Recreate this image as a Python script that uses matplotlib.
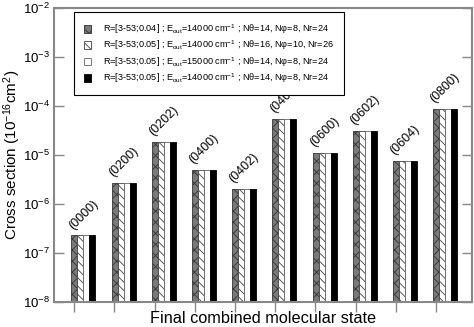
import numpy as np
import matplotlib
matplotlib.use("Agg")
import matplotlib.pyplot as plt
from matplotlib.patches import Patch

plt.rcParams['font.family'] = ['Liberation Sans', 'DejaVu Sans']
plt.rcParams['mathtext.fontset'] = 'custom'
plt.rcParams['mathtext.rm'] = 'Liberation Sans'
plt.rcParams['mathtext.it'] = 'Liberation Sans:italic'
plt.rcParams['hatch.linewidth'] = 0.6

# etats finaux et sections efficaces
states = ['(0000)', '(0200)', '(0202)', '(0400)', '(0402)',
          '(0404)', '(0600)', '(0602)', '(0604)', '(0800)']
sigma_a = [2.2e-7, 2.7e-6, 1.87e-5, 4.9e-6, 2.0e-6, 5.4e-5, 1.08e-5, 3.04e-5, 7.4e-6, 8.7e-5]
sigma_b = [2.2e-7, 2.7e-6, 1.87e-5, 4.9e-6, 2.0e-6, 5.4e-5, 1.08e-5, 3.04e-5, 7.4e-6, 8.7e-5]
sigma_c = [2.2e-7, 2.7e-6, 1.87e-5, 4.9e-6, 2.0e-6, 5.4e-5, 1.08e-5, 3.04e-5, 7.4e-6, 8.7e-5]
sigma_d = [2.2e-7, 2.7e-6, 1.87e-5, 4.9e-6, 2.0e-6, 5.4e-5, 1.08e-5, 3.04e-5, 7.4e-6, 8.7e-5]

labels = [
    r'R=[3-53;0.04] ; E$_{\rm out}$=14000 cm$^{-1}$ ; Nθ=14, Nφ=8, Nr=24',
    r'R=[3-53;0.05] ; E$_{\rm out}$=14000 cm$^{-1}$ ; Nθ=16, Nφ=10, Nr=26',
    r'R=[3-53;0.05] ; E$_{\rm out}$=15000 cm$^{-1}$ ; Nθ=14, Nφ=8, Nr=24',
    r'R=[3-53;0.05] ; E$_{\rm out}$=14000 cm$^{-1}$ ; Nθ=14, Nφ=8, Nr=24',
]

styles = [
    dict(facecolor='#7a7a7a', hatch='xxx', edgecolor='#333333'),
    dict(facecolor='white', hatch='\\\\\\\\', edgecolor='#444444'),
    dict(facecolor='white', hatch=None, edgecolor='#666666'),
    dict(facecolor='black', hatch=None, edgecolor='black'),
]

fig = plt.figure(figsize=(4.74, 3.27), dpi=100)
ax = fig.add_axes([0.114, 0.0765, 0.882, 0.899])

x = np.arange(1, len(states) + 1)
w = 0.15
series = [sigma_a, sigma_b, sigma_c, sigma_d]
handles = []
for k, (vals, st) in enumerate(zip(series, styles)):
    ax.bar(x - 0.07 + k * w, vals, width=w, align='edge', bottom=1e-8,
           linewidth=0.6, **st)
    handles.append(Patch(label=labels[k], linewidth=0.6, **st))

top = np.max(series, axis=0)
for xi, t, s in zip(x, top, states):
    ax.annotate(s, xy=(xi - 0.07 + 2 * w, t), xytext=(0, 3),
                textcoords='offset points', rotation=45,
                ha='center', va='bottom', fontsize=9)

ax.set_yscale('log')
ax.set_ylim(1e-8, 1e-2)
ax.set_xlim(0.5, 10.9)
ax.set_xticks(x)
ax.set_xticklabels([])
ax.minorticks_off()
ax.tick_params(axis='x', direction='out', length=7, color='#888888', width=1)
ax.tick_params(axis='y', direction='in', length=7, color='#888888', width=1,
               right=True, labelsize=9.5, pad=3)
for sp in ax.spines.values():
    sp.set_color('#888888')
    sp.set_linewidth(1.5)

ax.set_ylabel(r'Cross section (10$^{-16}$cm$^2$)', fontsize=11, va='center')
ax.yaxis.set_label_coords(-0.099, 0.50)
ax.set_xlabel('Final combined molecular state', fontsize=11.7, va='top')
ax.xaxis.set_label_coords(0.5, -0.032)

leg = ax.legend(handles=handles, loc='upper left', bbox_to_anchor=(0.048, 0.986),
                borderaxespad=0, fontsize=6.6, handlelength=0.7, handleheight=0.9,
                handletextpad=1.3, borderpad=1.1, labelspacing=0.3,
                fancybox=False, framealpha=1)
leg.get_frame().set_edgecolor('black')
leg.get_frame().set_linewidth(0.8)

fig.savefig('out.png', dpi=100)
